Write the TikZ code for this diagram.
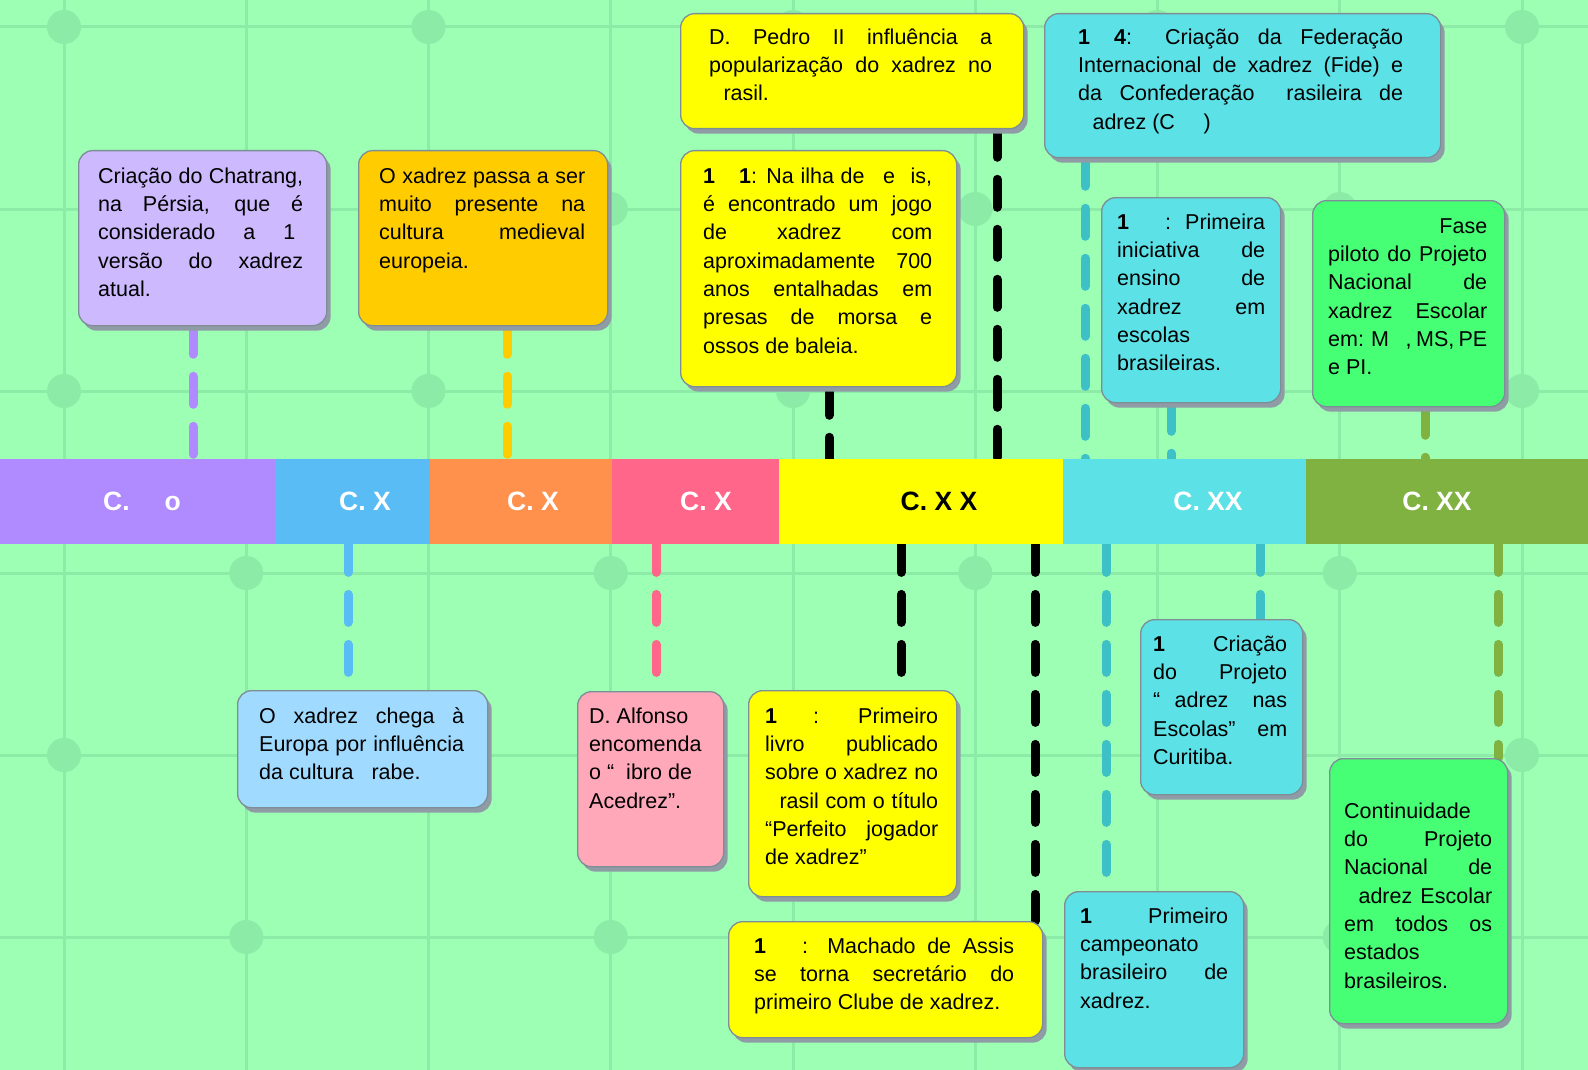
\documentclass[tikz,border=0pt]{standalone}
\usepackage{fontspec}
\setmainfont{Liberation Sans}
\usetikzlibrary{shadows}
\pgfdeclarelayer{gridlayer}
\pgfdeclarelayer{connlayer}
\pgfsetlayers{gridlayer,connlayer,main}
\definecolor{bg}{HTML}{9CFFB3}
\definecolor{gridc}{HTML}{8CEBA6}
\definecolor{bordc}{HTML}{7F8D96}
\definecolor{shadc}{HTML}{8F9CA6}
\definecolor{lilac}{HTML}{CDB9FE}
\definecolor{gold}{HTML}{FFCC00}
\definecolor{yel}{HTML}{FFFF00}
\definecolor{cyanb}{HTML}{5CE1E6}
\definecolor{lblue}{HTML}{A0DBFF}
\definecolor{pinkb}{HTML}{FFA8BA}
\definecolor{greenb}{HTML}{47FF75}
\definecolor{barpurple}{HTML}{B08AFF}
\definecolor{barblue}{HTML}{5ABCF5}
\definecolor{barorange}{HTML}{FF914D}
\definecolor{barpink}{HTML}{FF6689}
\definecolor{barolive}{HTML}{7FB241}
\definecolor{tealc}{HTML}{3EC1C6}
\newcommand\jl[2]{\makebox[#1pt][s]{#2}}
\begin{document}
\begin{tikzpicture}[x=1pt,y=-1pt,
  box/.style={draw=bordc, line width=1.3pt, rounded corners=14pt, inner sep=0pt, anchor=north west,
    drop shadow={shadow xshift=4pt, shadow yshift=-5pt, opacity=1, fill=shadc}},
  txt/.style={inner sep=0pt, anchor=north west, align=left, text=black, font=\fontsize{21.5}{28.3}\selectfont},
  seg/.style={inner sep=0pt, anchor=north west, minimum height=85pt},
  lab/.style={anchor=base, text=white, font=\fontsize{26.5}{30}\selectfont\bfseries},
  conn/.style={line width=9pt, dash pattern=on 28pt off 22pt, line cap=round}]
\useasboundingbox (0,0) rectangle (1588,1070);
\begin{pgfonlayer}{gridlayer}
\fill[bg] (0,0) rectangle (1588,1070);
\foreach \c in {0,...,8} {\draw[gridc, line width=3pt] ({64+182.25*\c},0) -- ({64+182.25*\c},1070);}
\foreach \r in {0,...,5} {\draw[gridc, line width=3pt] (0,{27+182*\r}) -- (1588,{27+182*\r});}
\foreach \c in {0,...,8} {\foreach \r in {0,...,5} {
  \pgfmathtruncatemacro\myparity{mod(\c+\r,2)}
  \ifnum\myparity=0 \fill[gridc] ({64+182.25*\c},{27+182*\r}) circle (17pt);\fi}}
\end{pgfonlayer}
% bar segments
\node[seg, fill=barpurple, minimum width=275pt] (seg1) at (0,459) {};
\node[seg, fill=barblue, minimum width=155pt] (seg2) at (275,459) {};
\node[seg, fill=barorange, minimum width=182pt] (seg3) at (430,459) {};
\node[seg, fill=barpink, minimum width=167pt] (seg4) at (612,459) {};
\node[seg, fill=yel, minimum width=284pt] (seg5) at (779,459) {};
\node[seg, fill=cyanb, minimum width=243pt] (seg6) at (1063,459) {};
\node[seg, fill=barolive, minimum width=283pt] (seg7) at (1306,459) {};
% boxes
\node[box, fill=lilac, minimum width=248pt, minimum height=175pt] (b1) at (78,150) {};
\node[box, fill=gold, minimum width=249pt, minimum height=175pt] (b2) at (358,150) {};
\node[box, fill=yel, minimum width=343pt, minimum height=115pt] (b3) at (680,13) {};
\node[box, fill=yel, minimum width=276pt, minimum height=236pt] (b4) at (680,150) {};
\node[box, fill=cyanb, minimum width=396pt, minimum height=144pt] (b5) at (1044,13) {};
\node[box, fill=cyanb, minimum width=179pt, minimum height=205pt] (b6) at (1101,197) {};
\node[box, fill=greenb, minimum width=192pt, minimum height=206pt] (b7) at (1312,200) {};
\node[box, fill=lblue, minimum width=250pt, minimum height=117pt] (b8) at (237,690) {};
\node[box, fill=pinkb, minimum width=146pt, minimum height=175pt] (b9) at (577,691) {};
\node[box, fill=yel, minimum width=208pt, minimum height=206pt] (b10) at (748,690) {};
\node[box, fill=yel, minimum width=314pt, minimum height=116pt] (b11) at (728,921) {};
\node[box, fill=cyanb, minimum width=179pt, minimum height=176pt] (b12) at (1064,891) {};
\node[box, fill=cyanb, minimum width=162pt, minimum height=175pt] (b13) at (1140,619) {};
\node[box, fill=greenb, minimum width=178pt, minimum height=265pt] (b14) at (1329,758) {};
% connector x positions
\coordinate (k1) at (193,0);
\coordinate (k2) at (507,0);
\coordinate (k3) at (829,0);
\coordinate (k4) at (997,0);
\coordinate (k5) at (1085,0);
\coordinate (k6) at (1171,0);
\coordinate (k7) at (1425,0);
\coordinate (k8) at (348,0);
\coordinate (k9) at (656,0);
\coordinate (k10) at (901,0);
\coordinate (k11) at (1035,0);
\coordinate (k12) at (1106,0);
\coordinate (k13) at (1260,0);
\coordinate (k14) at (1498,0);
\begin{pgfonlayer}{connlayer}
\draw[conn, barpurple] (b1.south -| k1) -- (seg1.north -| k1);
\draw[conn, gold] (b2.south -| k2) -- (seg3.north -| k2);
\draw[conn, black] (b4.south -| k3) -- (seg5.north -| k3);
\draw[conn, black] (b3.south -| k4) -- (seg5.north -| k4);
\draw[conn, tealc] (b5.south -| k5) -- (seg6.north -| k5);
\draw[conn, tealc] (b6.south -| k6) -- (seg6.north -| k6);
\draw[conn, barolive] (b7.south -| k7) -- (seg7.north -| k7);
\draw[conn, barblue] (seg2.south -| k8) -- (b8.north -| k8);
\draw[conn, barpink] (seg4.south -| k9) -- (b9.north -| k9);
\draw[conn, black] (seg5.south -| k10) -- (b10.north -| k10);
\draw[conn, black] (seg5.south -| k11) -- (b11.north -| k11);
\draw[conn, tealc] (seg6.south -| k12) -- (b12.north -| k12);
\draw[conn, tealc] (seg6.south -| k13) -- (b13.north -| k13);
\draw[conn, barolive] (seg7.south -| k14) -- (b14.north -| k14);
\end{pgfonlayer}
% bar labels
\node[lab] (l1) at (142,510) {C.\hspace{35pt}o};
\node[lab] (l2) at (365,510) {C. X};
\node[lab] (l3) at (533,510) {C. X};
\node[lab] (l4) at (706,510) {C. X};
\node[lab, text=black] (l5) at (939,510) {C. X X};
\node[lab] (l6) at (1208,510) {C. XX};
\node[lab] (l7) at (1437,510) {C. XX};
% texts
\node[txt] (t1) at (98,163.2) {\strut\jl{205}{Criação do Chatrang,}\\\jl{205}{na Pérsia, que é}\\\jl{205}{considerado a 1\phantom{ª}}\\\jl{205}{versão do xadrez}\\atual.};
\node[txt] (t2) at (379,163.2) {\strut\jl{206}{O xadrez passa a ser}\\\jl{206}{muito presente na}\\\jl{206}{cultura medieval}\\europeia.};
\node[txt] (t3) at (709,24.2) {\strut\jl{283}{D. Pedro II influência a}\\\jl{283}{popularização do xadrez no}\\\phantom{B}rasil.};
\node[txt] (t4) at (703,163.2) {\strut\jl{229}{\textbf{1\phantom{83}1}: Na ilha de \phantom{L}e\phantom{w}is,}\\\jl{229}{é encontrado um jogo}\\\jl{229}{de xadrez com}\\\jl{229}{aproximadamente 700}\\\jl{229}{anos entalhadas em}\\\jl{229}{presas de morsa e}\\ossos de baleia.};
\node[txt] (t5) at (1078,24.2) {\strut\jl{325}{\textbf{1\phantom{92}4}: Criação da Federação}\\\jl{325}{Internacional de xadrez (Fide) e}\\\jl{325}{da Confederação \phantom{B}rasileira de}\\\phantom{X}adrez (C\phantom{BX})};
\node[txt] (t6) at (1117,209.2) {\strut\jl{148}{\textbf{1\phantom{988}}: Primeira}\\\jl{148}{iniciativa de}\\\jl{148}{ensino de}\\\jl{148}{xadrez em}\\escolas\\brasileiras.};
\node[txt] (t7) at (1328,213.2) {\strut\makebox[159pt][r]{Fase}\\\jl{159}{piloto do Projeto}\\\jl{159}{Nacional de}\\\jl{159}{xadrez Escolar}\\\jl{159}{em: M\phantom{G}, MS, PE}\\e PI.};
\node[txt] (t8) at (259,703.2) {\strut\jl{205}{O xadrez chega à}\\\jl{205}{Europa por influência}\\da cultura \phantom{á}rabe.};
\node[txt] (t9) at (589,703.2) {\strut D. Alfonso\\encomenda\\o “\phantom{L}ibro de\\Acedrez”.};
\node[txt] (t10) at (765,703.2) {\strut\jl{173}{\textbf{1\phantom{845}}: Primeiro}\\\jl{173}{livro publicado}\\\jl{173}{sobre o xadrez no}\\\jl{173}{\phantom{B}rasil com o título}\\\jl{173}{“Perfeito jogador}\\de xadrez”};
\node[txt] (t11) at (754,933.2) {\strut\jl{260}{\textbf{1\phantom{877}}: Machado de Assis}\\\jl{260}{se torna secretário do}\\primeiro Clube de xadrez.};
\node[txt] (t12) at (1080,903.2) {\strut\jl{148}{\textbf{1} Primeiro}\\campeonato\\\jl{148}{brasileiro de}\\xadrez.};
\node[txt] (t13) at (1153,631.2) {\strut\jl{134}{\textbf{1} Criação}\\\jl{134}{do Projeto}\\\jl{134}{“\phantom{X}adrez nas}\\\jl{134}{Escolas” em}\\Curitiba.};
\node[txt] (t14) at (1344,798.2) {\strut Continuidade\\\jl{148}{do Projeto}\\\jl{148}{Nacional de}\\\jl{148}{\phantom{X}adrez Escolar}\\\jl{148}{em todos os}\\estados\\brasileiros.};
\end{tikzpicture}
\end{document}
